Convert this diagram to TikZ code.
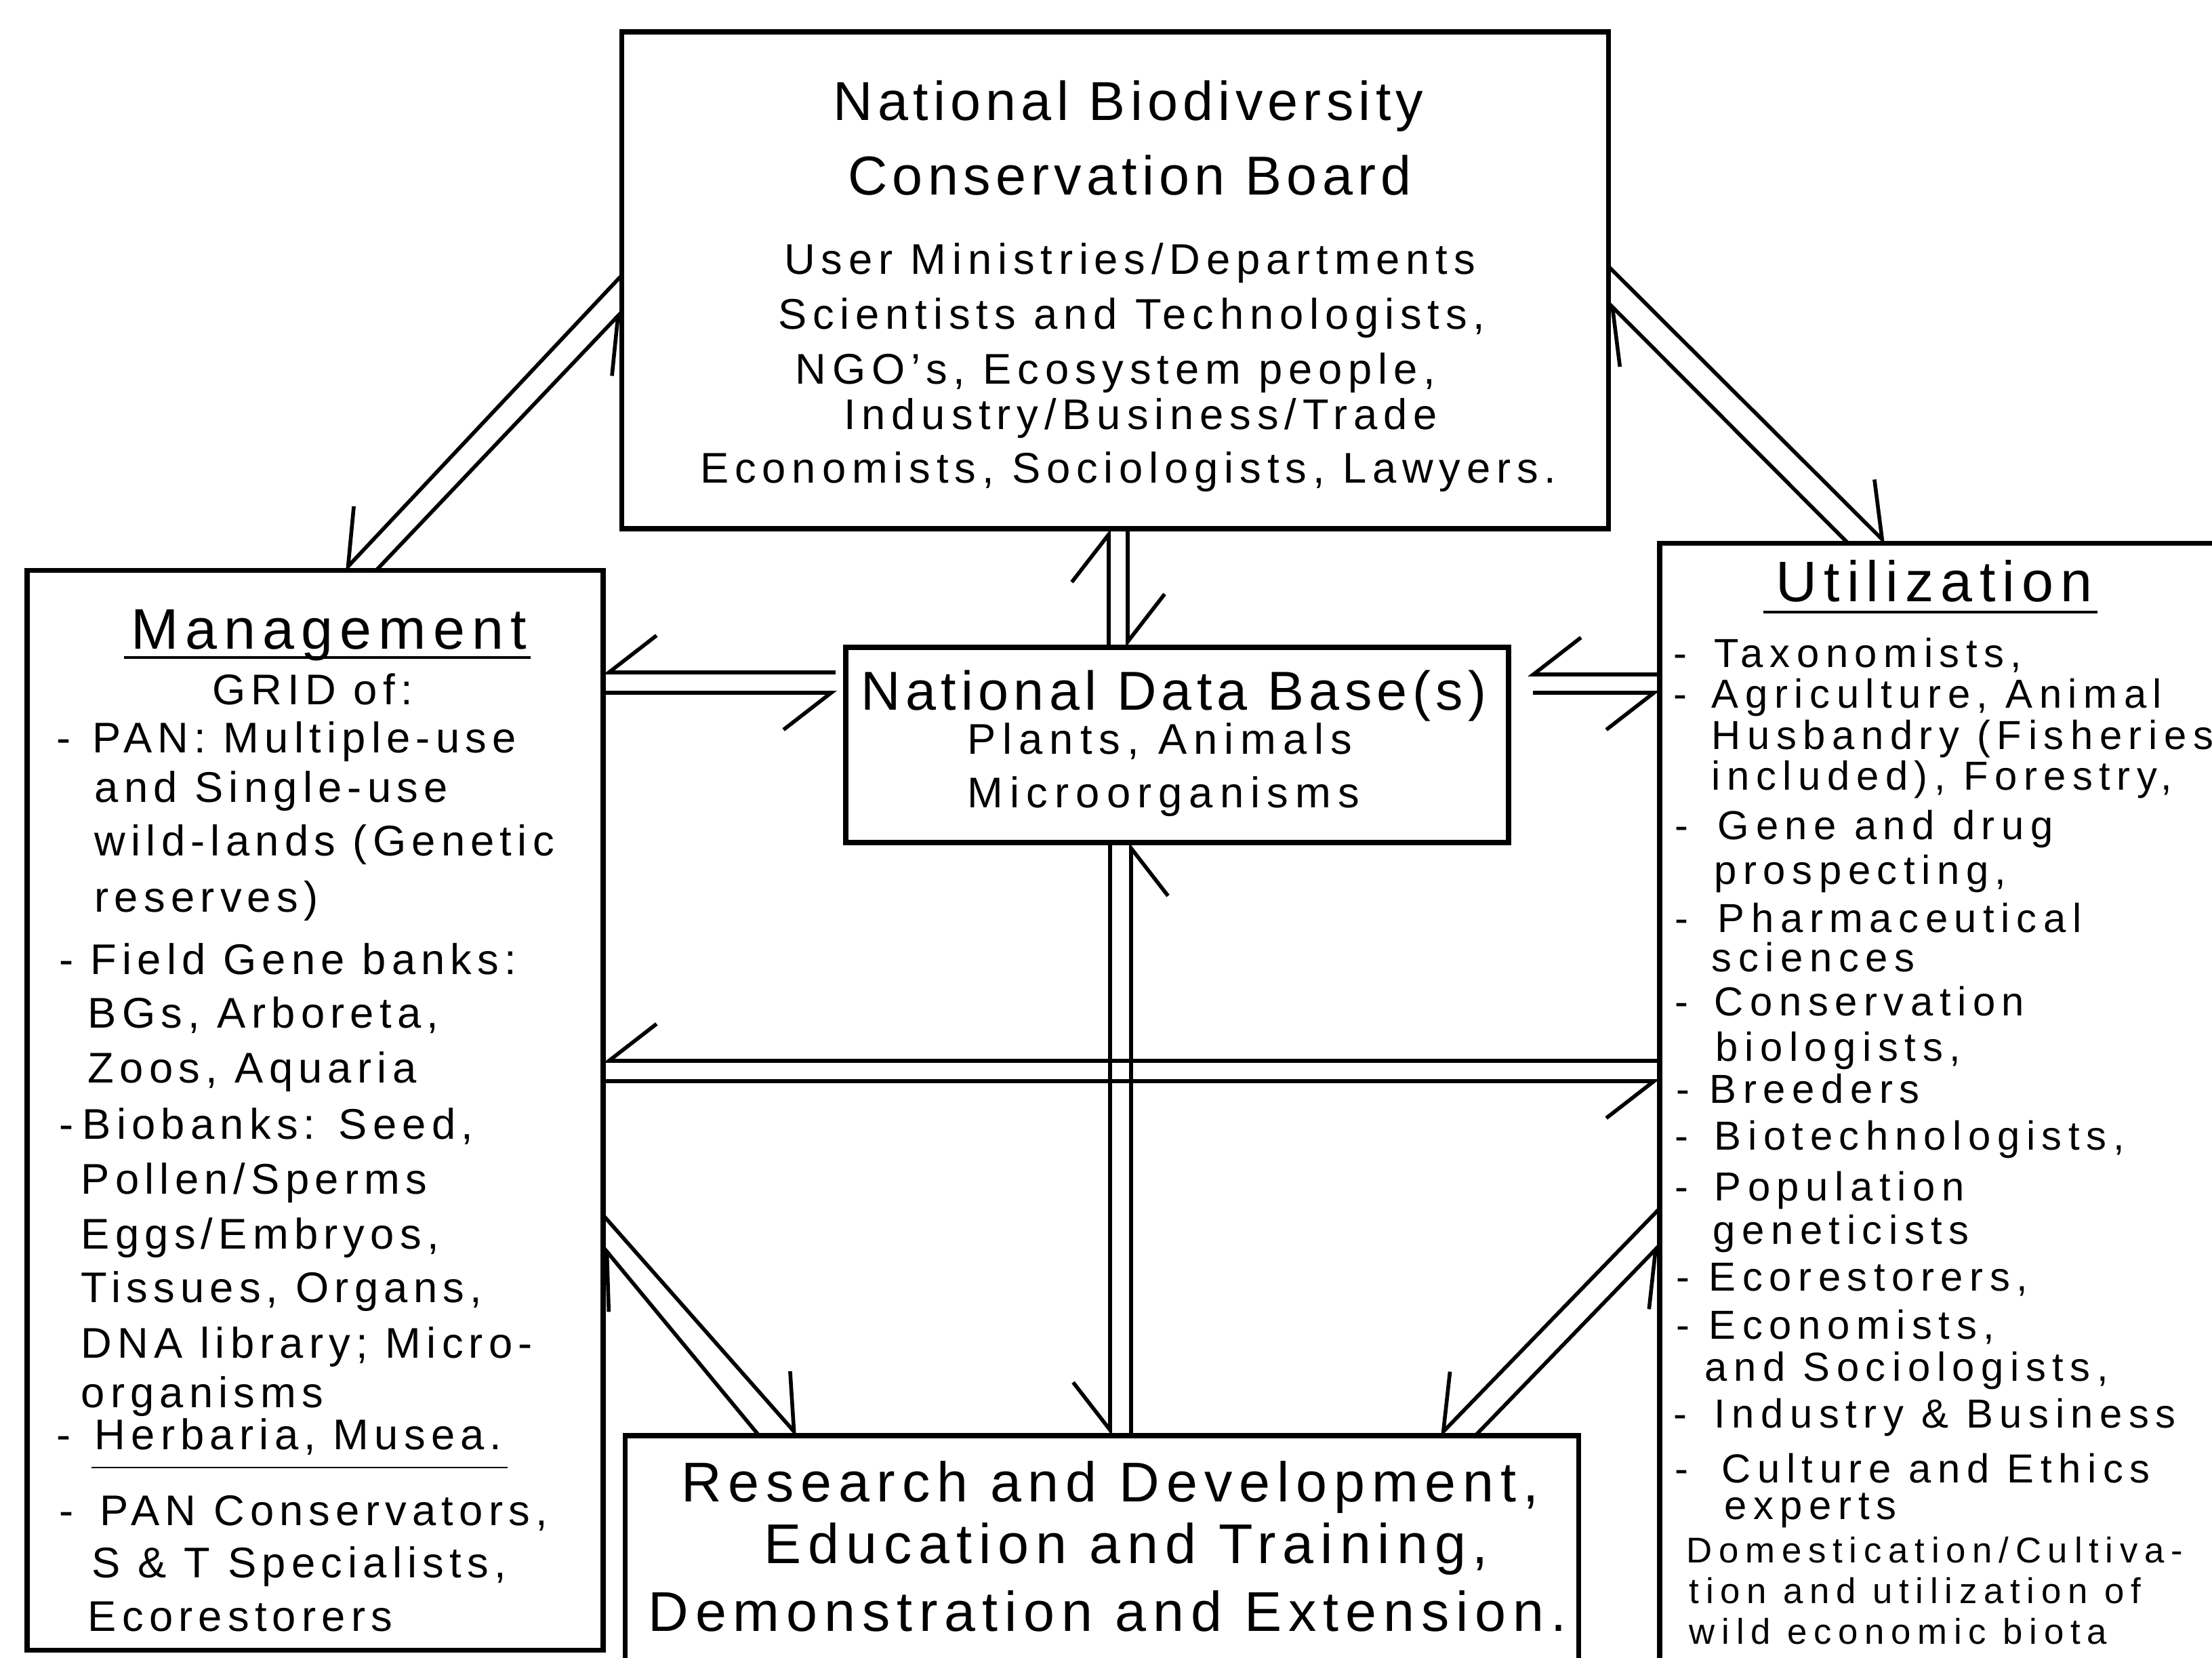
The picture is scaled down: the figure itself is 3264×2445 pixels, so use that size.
\documentclass[tikz,border=0pt]{standalone}
\usepackage{fontspec}
\setmainfont{Liberation Sans}
\usetikzlibrary{arrows.meta,calc}

% hyphen at the head of a list entry, followed by a fixed gap
\newcommand{\dashlead}[1]{\makebox[#1][l]{-}}

\tikzset{
  box/.style={draw, rectangle, line width=2.2pt, inner sep=0pt, outer sep=0pt},
  link/.style={line width=1.6pt},
  hR/.style={link, -{Straight Barb[right, length=20pt, width=31pt]}},
  hL/.style={link, -{Straight Barb[left, length=20pt, width=31pt]}},
  ttl/.style={inner sep=0pt, anchor=mid, yshift=-0.18cm, font={\fontsize{23}{27}\selectfont\addfontfeatures{LetterSpace=9}}},
  rdt/.style={inner sep=0pt, anchor=mid, yshift=-0.18cm, font={\fontsize{23.5}{28}\selectfont\addfontfeatures{LetterSpace=12}}},
  bbody/.style={inner sep=0pt, anchor=mid, yshift=-0.12cm, font={\fontsize{18}{22}\selectfont\addfontfeatures{LetterSpace=14}}},
  dbsub/.style={inner sep=0pt, anchor=mid, yshift=-0.12cm, font={\fontsize{18}{22}\selectfont\addfontfeatures{LetterSpace=16}}},
  sideh/.style={inner sep=0pt, anchor=mid, yshift=-0.18cm, font={\fontsize{24}{28}\selectfont\addfontfeatures{LetterSpace=12}}},
  mbody/.style={inner sep=0pt, anchor=mid west, yshift=-0.12cm, font={\fontsize{18}{22}\selectfont\addfontfeatures{LetterSpace=13}}},
  ubody/.style={inner sep=0pt, anchor=mid west, yshift=-0.11cm, font={\fontsize{17}{21}\selectfont\addfontfeatures{LetterSpace=16}}},
  ulast/.style={inner sep=0pt, anchor=mid west, yshift=-0.11cm, font={\fontsize{15}{18}\selectfont\addfontfeatures{LetterSpace=18.5}}},
  rule/.style={line width=1.3pt},
}

\begin{document}
\begin{tikzpicture}[x=0.01cm, y=-0.01cm]
\useasboundingbox (0,0) rectangle (3264,2445);
\clip (0,0) rectangle (3264,2445);
\fill[white] (0,0) rectangle (3264,2445);

% ---- boxes ----
\node[box, minimum width=14.55cm, minimum height=7.33cm] (board) at (1645.5,413.5) {};
\node[box, minimum width=8.50cm, minimum height=15.92cm] (mgmt) at (465,1638) {};
\node[box, minimum width=9.51cm, minimum height=17.98cm] (util) at (2924.5,1701) {};
\node[box, minimum width=9.78cm, minimum height=2.88cm] (db) at (1737,1099) {};
\node[box, minimum width=14.06cm, minimum height=4.42cm] (rnd) at (1626,2339) {};

% ---- board text ----
\node[ttl] (bt1) at (1665,150) {National Biodiversity};
\node[ttl] (bt2) at (1667,260) {Conservation Board};
\node[bbody] (bb1) at (1667,383) {User Ministries/Departments};
\node[bbody] (bb2) at (1670,464) {Scientists and Technologists,};
\node[bbody] (bb3) at (1646,545) {NGO's, Ecosystem people,};
\node[bbody] (bb4) at (1683,612) {Industry/Business/Trade};
\node[bbody] (bb5) at (1665,691) {Economists, Sociologists, Lawyers.};

% ---- data base text ----
\node[ttl] (dt1) at (1732,1020) {National Data Base(s)};
\node[dbsub] (dt2) at (1711,1091) {Plants, Animals};
\node[dbsub] (dt3) at (1717,1170) {Microorganisms};

% ---- research text ----
\node[rdt] (rt1) at (1638,2188) {Research and Development,};
\node[rdt] (rt2) at (1662,2279) {Education and Training,};
\node[rdt] (rt3) at (1634,2379) {Demonstration and Extension.};

% ---- management text ----
\node[sideh] (mh) at (485,930) {Management};
\draw[rule] (183,970) -- (783,970);
\node[mbody, anchor=mid] (mg) at (461,1018) {GRID of:};
\node[mbody] (m1) at (83,1089) {\dashlead{15pt}PAN: Multiple-use};
\node[mbody] (m2) at (139,1162) {and Single-use};
\node[mbody] (m3) at (139,1241) {wild-lands (Genetic};
\node[mbody] (m4) at (139,1324) {reserves)};
\node[mbody] (m5) at (87,1416) {\dashlead{13pt}Field Gene banks:};
\node[mbody] (m6) at (129,1495) {BGs, Arboreta,};
\node[mbody] (m7) at (129,1576) {Zoos, Aquaria};
\node[mbody] (m8) at (87,1659) {\dashlead{9.7pt}Biobanks: Seed,};
\node[mbody] (m9) at (119,1740) {Pollen/Sperms};
\node[mbody] (m10) at (119,1821) {Eggs/Embryos,};
\node[mbody] (m11) at (119,1900) {Tissues, Organs,};
\node[mbody] (m12) at (119,1982) {DNA library; Micro-};
\node[mbody] (m13) at (119,2055) {organisms};
\node[mbody] (m14) at (83,2117) {\dashlead{16pt}Herbaria, Musea.};
\draw[line width=0.7pt] (135,2165) -- (749,2165);
\node[mbody] (m15) at (87,2229) {\dashlead{17pt}PAN Conservators,};
\node[mbody] (m16) at (135,2306) {S \& T Specialists,};
\node[mbody] (m17) at (129,2385) {Ecorestorers};

% ---- utilization text ----
\node[sideh] (uh) at (2854,860) {Utilization};
\draw[rule] (2602,903) -- (3095,903);
\node[ubody] (u1) at (2469,964) {\dashlead{17pt}Taxonomists,};
\node[ubody] (u2) at (2469,1024) {\dashlead{16pt}Agriculture, Animal};
\node[ubody] (u3) at (2525,1085) {Husbandry (Fisheries};
\node[ubody] (u4) at (2525,1145) {included), Forestry,};
\node[ubody] (u5) at (2471,1218) {\dashlead{18pt}Gene and drug};
\node[ubody] (u6) at (2529,1284) {prospecting,};
\node[ubody] (u7) at (2471,1355) {\dashlead{18pt}Pharmaceutical};
\node[ubody] (u8) at (2525,1413) {sciences};
\node[ubody] (u9) at (2471,1478) {\dashlead{16.5pt}Conservation};
\node[ubody] (u10) at (2531,1545) {biologists,};
\node[ubody] (u11) at (2473,1607) {\dashlead{14pt}Breeders};
\node[ubody] (u12) at (2471,1676) {\dashlead{16.5pt}Biotechnologists,};
\node[ubody] (u13) at (2471,1751) {\dashlead{16.5pt}Population};
\node[ubody] (u14) at (2527,1815) {geneticists};
\node[ubody] (u15) at (2473,1884) {\dashlead{13.7pt}Ecorestorers,};
\node[ubody] (u16) at (2473,1955) {\dashlead{13.7pt}Economists,};
\node[ubody] (u17) at (2515,2017) {and Sociologists,};
\node[ubody] (u18) at (2469,2086) {\dashlead{17pt}Industry \& Business};
\node[ubody] (u19) at (2471,2167) {\dashlead{19.6pt}Culture and Ethics};
\node[ubody] (u20) at (2544,2221) {experts};
\node[ulast] (u21) at (2488,2285) {Domestication/Cultiva-};
\node[ulast] (u22) at (2492,2345) {tion and utilization of};
\node[ulast] (u23) at (2492,2405) {wild economic biota};

% ---- connectors ----
% board and management
\draw[hR] (board.west |- 0,406) -- (508,0 |- mgmt.north);
\draw[hR] (555,0 |- mgmt.north) -- (board.west |- 0,460);
% board and utilization
\draw[hL] (board.east |- 0,393) -- (2783,0 |- util.north);
\draw[hL] (2727,0 |- util.north) -- (board.east |- 0,447);
% board and data base
\draw[hL] (1636,0 |- db.north) -- (1636,0 |- board.south);
\draw[hL] (1664,0 |- board.south) -- (1664,0 |- db.north);
% management and data base
\draw[hR, shorten <=0.15cm] (db.west |- 0,992) -- (mgmt.east |- 0,992);
\draw[hR, shorten >=0.13cm] (mgmt.east |- 0,1022) -- (db.west |- 0,1022);
% data base and utilization
\draw[hR, shorten >=0.28cm] (util.west |- 0,995) -- (db.east |- 0,995);
\draw[hR, shorten <=0.36cm] (db.east |- 0,1022) -- (util.west |- 0,1022);
% management and utilization
\draw[hR] (util.west |- 0,1565) -- (mgmt.east |- 0,1565);
\draw[hR] (mgmt.east |- 0,1595) -- (util.west |- 0,1595);
% data base and research
\draw[hR] (1669,0 |- rnd.north) -- (1669,0 |- db.south);
\draw[hR] (1638,0 |- db.south) -- (1638,0 |- rnd.north);
% management and research
\draw[hL] (mgmt.east |- 0,1793) -- (1177,0 |- rnd.north);
\draw[hL] (1120,0 |- rnd.north) -- (mgmt.east |- 0,1840);
% utilization and research
\draw[hR] (util.west |- 0,1783) -- (2124,0 |- rnd.north);
\draw[hR] (2177,0 |- rnd.north) -- (util.west |- 0,1837);
\end{tikzpicture}
\end{document}
